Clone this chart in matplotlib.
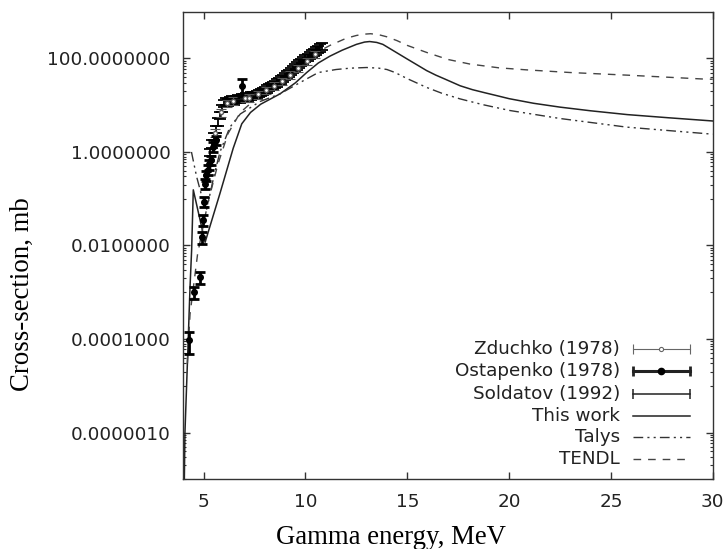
import matplotlib
matplotlib.use("Agg")
import matplotlib.pyplot as plt
from matplotlib.ticker import FixedLocator, FuncFormatter, NullLocator, NullFormatter

# --- experimental points (energy in MeV, cross-section in mb) ---
zduchko_e = [5.55, 5.85, 6.15, 6.45, 7.05, 7.25, 7.65, 8.05, 8.45, 8.85, 9.25, 9.65, 10.05, 10.45]
zduchko_xs = [2.6, 7.0, 11.0, 12.5, 14.0, 14.5, 17.0, 21.0, 26.0, 33.0, 45.0, 62.0, 88.0, 125.0]
zduchko_err = [0.5, 1.3, 2.0, 2.3, 2.5, 2.6, 3.1, 3.8, 4.7, 6.0, 8.0, 11.0, 16.0, 22.0]

ostapenko_e = [4.30, 4.53, 4.82, 4.90, 4.95, 5.02, 5.07, 5.13, 5.20, 5.28, 5.37, 5.45, 5.62, 6.87]
ostapenko_xs = [9.3e-5, 1.0e-3, 2.1e-3, 0.015, 0.035, 0.087, 0.21, 0.32, 0.42, 0.55, 0.68, 1.3, 1.8, 26.0]
ostapenko_err = [4.5e-5, 3e-4, 6e-4, 4e-3, 9e-3, 0.022, 0.05, 0.08, 0.1, 0.13, 0.16, 0.3, 0.4, 10.0]

soldatov_e = [5.3, 5.4, 5.5, 5.6, 5.7, 5.8, 5.9, 6.0, 6.1, 6.2, 6.3, 6.4, 6.5, 6.6,
              6.7, 6.8, 6.9, 7.0, 7.1, 7.2, 7.3, 7.4, 7.5, 7.6, 7.7, 7.8, 7.9, 8.0,
              8.1, 8.2, 8.3, 8.4, 8.5, 8.6, 8.7, 8.8, 8.9, 9.0, 9.1, 9.2, 9.3, 9.4,
              9.5, 9.6, 9.7, 9.8, 9.9, 10.0, 10.1, 10.2, 10.3, 10.4, 10.5, 10.6, 10.7, 10.8]
soldatov_xs = [1.0, 1.5, 2.2, 3.1, 4.4, 6.2, 8.6, 11.0, 12.2, 11.6, 12.6, 13.2, 12.4, 13.6,
               14.0, 13.3, 14.8, 14.4, 15.3, 14.9, 16.0, 16.6, 16.2, 17.4, 18.2, 19.2, 20.0, 21.3,
               22.4, 24.0, 25.2, 27.0, 28.6, 30.5, 32.8, 35.5, 38.0, 41.5, 45.0, 49.0, 53.5, 58.5,
               64.0, 70.0, 77.0, 84.0, 92.0, 100.0, 108.0, 117.0, 126.0, 136.0, 147.0, 158.0, 170.0, 182.0]
soldatov_err = [0.18, 0.27, 0.4, 0.56, 0.8, 1.1, 1.5, 2.0, 2.2, 2.1, 2.3, 2.4, 2.2, 2.4,
                2.5, 2.4, 2.7, 2.6, 2.8, 2.7, 2.9, 3.0, 2.9, 3.1, 3.3, 3.5, 3.6, 3.8,
                4.0, 4.3, 4.5, 4.9, 5.1, 5.5, 5.9, 6.4, 6.8, 7.5, 8.1, 8.8, 9.6, 10.5,
                11.5, 12.6, 13.9, 15.0, 16.6, 18.0, 19.4, 21.0, 22.7, 24.5, 26.5, 28.4, 30.6, 32.8]

# --- calculated curves ---
this_work_e = [4.0, 4.05, 4.08, 4.2, 4.33, 4.41, 4.49, 5.07, 5.8, 6.45, 6.87, 7.3, 7.8,
               8.75, 9.5, 10.06, 10.63, 11.2, 11.8, 12.5, 12.9, 13.15, 13.5, 13.8, 14.3,
               15.0, 15.5, 15.95, 16.4, 16.8, 17.6, 18.2, 18.8, 19.4, 20.0, 21.2, 22.5,
               24.0, 25.8, 27.8, 30.0]
this_work_xs = [1e-8, 1e-7, 1e-6, 3e-5, 1.3e-3, 8.3e-3, 0.155, 0.0117, 0.13, 1.2, 4.0, 7.0, 10.5,
                17.5, 30.0, 50.0, 80.0, 112.0, 150.0, 200.0, 224.0, 230.0, 220.0, 200.0, 148.0,
                97.0, 72.0, 55.0, 44.0, 37.0, 26.0, 21.5, 18.5, 16.0, 13.8, 11.0, 9.1,
                7.6, 6.3, 5.4, 4.6]

talys_e = [4.4, 4.65, 5.0, 5.15, 5.5, 5.8, 6.29, 6.8, 7.77, 8.75, 9.7, 10.63, 11.5, 12.2,
           13.0, 13.6, 14.0, 14.4, 15.0, 15.95, 16.7, 17.58, 18.7, 20.04, 22.5, 25.77, 30.0]
talys_xs = [1.0, 0.3, 0.08, 0.06, 0.3, 1.0, 3.4, 6.5, 12.0, 17.5, 30.0, 50.0, 58.0, 62.0,
            64.0, 62.0, 58.0, 50.0, 37.0, 24.0, 18.0, 13.7, 10.3, 7.7, 5.2, 3.4, 2.4]

tendl_e = [4.2, 4.25, 4.33, 4.7, 5.2, 5.7, 6.2, 6.8, 7.5, 8.2, 9.0, 9.8, 10.5, 11.2, 12.0,
           12.5, 12.85, 13.2, 13.6, 14.0, 14.5, 15.0, 15.96, 17.0, 18.07, 19.5, 20.86,
           23.0, 25.77, 29.7, 30.0]
tendl_xs = [3e-5, 8e-5, 3.4e-4, 6.5e-3, 0.08, 0.55, 2.5, 7.0, 13.0, 22.0, 40.0, 75.0, 130.0,
            190.0, 270.0, 310.0, 330.0, 338.0, 322.0, 290.0, 240.0, 190.0, 134.0, 95.0, 76.0,
            63.0, 57.0, 50.0, 44.0, 36.0, 36.0]

y_major = [1e-6, 1e-4, 1e-2, 1.0, 100.0]
x_major = [5, 10, 15, 20, 25, 30]

legend_labels = ["Zduchko (1978)", "Ostapenko (1978)", "Soldatov (1992)", "This work", "Talys", "TENDL"]

axis_color = "#333333"
talys_dash = (7, 3, 1.5, 3, 1.5, 3)
tendl_dash = (5.5, 5)

fig = plt.figure(figsize=(7.26, 5.49), dpi=100)
ax = fig.add_axes([0.2525, 0.127, 0.7292, 0.8517])

ax.plot(this_work_e, this_work_xs, color="#222222", lw=1.1)
ax.plot(talys_e, talys_xs, color="#333333", lw=1.0, dashes=talys_dash)
ax.plot(tendl_e, tendl_xs, color="#444444", lw=1.0, dashes=tendl_dash)

ax.errorbar(soldatov_e, soldatov_xs, yerr=soldatov_err, fmt="none", ecolor="black",
            elinewidth=1.3, capsize=4, capthick=1.3)
ax.errorbar(zduchko_e, zduchko_xs, yerr=zduchko_err, fmt="o", ms=3, mfc="white", mec="#555555",
            ecolor="#555555", elinewidth=0.8, capsize=3.5, capthick=0.8)
ax.errorbar(ostapenko_e, ostapenko_xs, yerr=ostapenko_err, fmt="o", ms=4, color="black",
            elinewidth=2.0, capsize=3.5, capthick=2.0)

ax.set_xlim(4, 30)
ax.set_yscale("log")
ax.set_ylim(1e-7, 1e3)

ax.xaxis.set_major_locator(FixedLocator(x_major))
ax.xaxis.set_minor_locator(NullLocator())
ax.yaxis.set_major_locator(FixedLocator(y_major))
# gnuplot-like minor tics: k*10^(n+1) between majors 10^n and 10^(n+2)
ax.yaxis.set_minor_locator(FixedLocator([k * 10.0 ** e for e in (-7, -5, -3, -1, 1) for k in range(1, 10)]))
ax.yaxis.set_major_formatter(FuncFormatter(lambda v, p: f"{v:.7f}"))
ax.yaxis.set_minor_formatter(NullFormatter())

ax.tick_params(which="both", direction="in", top=True, right=True, color=axis_color)
ax.tick_params(which="major", length=5, width=1.0, labelsize=13.2, labelcolor="#222222")
ax.tick_params(axis="x", which="major", pad=10)
ax.tick_params(axis="y", which="major", pad=9)
ax.tick_params(which="minor", length=2.5, width=0.8)
for sp in ax.spines.values():
    sp.set_color(axis_color)
    sp.set_linewidth(1.0)
for t in ax.get_xticklabels() + ax.get_yticklabels():
    t.set_fontfamily("DejaVu Sans")

ax.set_xlabel("Gamma energy, MeV", fontfamily="Liberation Serif", fontsize=19.3)
ax.set_ylabel("Cross-section, mb", fontfamily="Liberation Serif", fontsize=19.3)
ax.xaxis.set_label_coords(0.392, -0.098)
ax.yaxis.set_label_coords(-0.28, 0.395)

# hand-drawn gnuplot style key
row_y = [0.2776, 0.2306, 0.1815, 0.1345, 0.0897, 0.0427]
tx, k0, k1 = 0.8248, 0.849, 0.9565
km = (k0 + k1) / 2
for lab, yy in zip(legend_labels, row_y):
    ax.text(tx, yy, lab, transform=ax.transAxes, ha="right", va="center",
            fontsize=13.2, fontfamily="DejaVu Sans", color="#222222")
kw = dict(transform=ax.transAxes, clip_on=False)
ax.plot([k0, k1], [row_y[0]] * 2, color="#666666", lw=0.8, marker="|", ms=7, mew=0.8, **kw)
ax.plot([km], [row_y[0]], color="#666666", marker="o", ms=3, mfc="white", mew=0.8, **kw)
ax.plot([k0, k1], [row_y[1]] * 2, color="#222222", lw=2.2, marker="|", ms=7, mew=2.0, **kw)
ax.plot([km], [row_y[1]], color="black", marker="o", ms=4.5, **kw)
ax.plot([k0, k1], [row_y[2]] * 2, color="#222222", lw=1.1, marker="|", ms=7, mew=1.1, **kw)
ax.plot([k0, k1], [row_y[3]] * 2, color="#222222", lw=1.1, **kw)
ax.plot([k0, k1], [row_y[4]] * 2, color="#333333", lw=1.0, dashes=talys_dash, **kw)
ax.plot([k0, k1], [row_y[5]] * 2, color="#444444", lw=1.0, dashes=tendl_dash, **kw)

fig.savefig("out.png", dpi=100)
